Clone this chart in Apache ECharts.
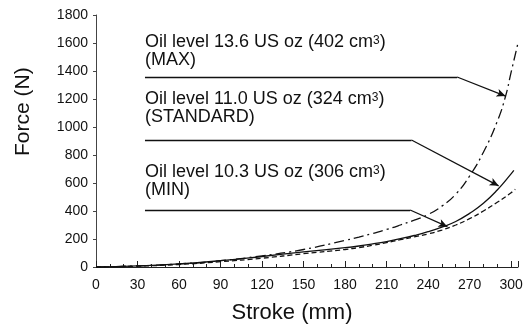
<!DOCTYPE html>
<html><head><meta charset="utf-8">
<script src="https://cdn.jsdelivr.net/npm/echarts@6/dist/echarts.min.js"></script>
<style>html,body{margin:0;padding:0;background:#fff}#c{width:527px;height:329px}</style>
</head><body><div id="c"></div>
<script>
// Data
const xTicks = [0, 30, 60, 90, 120, 150, 180, 210, 240, 270, 300];
const yTicks = [0, 200, 400, 600, 800, 1000, 1200, 1400, 1600, 1800];
const maxStroke = [0, 30, 60, 90, 120, 150, 180, 190, 200, 210, 220, 230, 240, 250, 260, 270, 280, 290, 296, 300, 305];
const maxForce  = [0, 8, 22, 45, 80, 125, 190, 213, 240, 268, 300, 335, 375, 435, 520, 650, 820, 1040, 1220, 1390, 1600];
const stdStroke = [0, 30, 60, 90, 120, 150, 180, 190, 200, 210, 220, 230, 240, 250, 260, 270, 280, 290, 300, 302];
const stdForce  = [0, 8, 22, 45, 75, 108, 138, 150, 165, 182, 202, 225, 252, 285, 325, 383, 455, 550, 665, 690];
const minStroke = [0, 30, 60, 90, 120, 150, 180, 190, 200, 210, 220, 230, 240, 250, 260, 270, 280, 290, 300, 303];
const minForce  = [0, 6, 18, 38, 63, 95, 125, 139, 155, 174, 195, 215, 236, 264, 300, 345, 400, 462, 530, 555];
const labels = [
  "Oil level 13.6 US oz (402 cm{s|3})\n(MAX)",
  "Oil level 11.0 US oz (324 cm{s|3})\n(STANDARD)",
  "Oil level 10.3 US oz (306 cm{s|3})\n(MIN)"
];
// annotation anchors in data units: text position, leader start, elbow, arrow target
const textAt   = [[35.4, 1600], [35.4, 1190], [35.4, 670]];
const leaderY  = [1357, 907, 407];
const elbowX   = [261, 228, 227];
const arrowTo  = [[296, 1221], [291, 580], [254, 288]];

const FONT = 'Liberation Sans, Arial, Helvetica, sans-serif';
const zip = (a, b) => a.map((v, i) => [v, b[i]]);

const chart = echarts.init(document.getElementById('c'));
const markLineData = [];
for (let i = 0; i < 3; i++) {
  markLineData.push([{coord: [textAt[i][0], leaderY[i]], symbol: 'none'}, {coord: [elbowX[i], leaderY[i]], symbol: 'none'}]);
  markLineData.push([{coord: [elbowX[i], leaderY[i]], symbol: 'none'}, {coord: arrowTo[i], symbol: 'arrow'}]);
}
const lineSeries = (name, xs, ys, type) => ({
  name, type: 'line', data: zip(xs, ys), smooth: 0.5, showSymbol: false,
  lineStyle: {color: '#111', width: 1.3, type}, animation: false
});
const s1 = lineSeries('MAX', maxStroke, maxForce, [10, 4, 2, 4]);
const s2 = lineSeries('STANDARD', stdStroke, stdForce, 'solid');
const s3 = lineSeries('MIN', minStroke, minForce, [5, 3]);
s1.markLine = {
  silent: true, animation: false, symbolSize: [6, 9],
  lineStyle: {color: '#111', width: 1.3, type: 'solid'},
  label: {show: false}, data: markLineData
};
chart.setOption({
  animation: false,
  grid: {left: 96, right: 9, top: 15, bottom: 62},
  xAxis: {
    type: 'value', min: xTicks[0], max: 305, interval: 30,
    axisLine: {lineStyle: {color: '#222', width: 1}},
    axisTick: {inside: true, length: 6, lineStyle: {color: '#222'}},
    minorTick: {show: true, splitNumber: 3, length: 3, lineStyle: {color: '#222'}},
    splitLine: {show: false},
    axisLabel: {color: '#111', fontSize: 14, fontFamily: FONT, margin: 11,
      formatter: v => (xTicks.indexOf(v) >= 0 ? String(v) : '')}
  },
  yAxis: {
    type: 'value', min: yTicks[0], max: yTicks[yTicks.length - 1], interval: 200,
    axisLine: {show: true, lineStyle: {color: '#444', width: 1}},
    axisTick: {show: true, length: 3, lineStyle: {color: '#444'}},
    splitLine: {show: false},
    axisLabel: {color: '#111', fontSize: 14, fontFamily: FONT, margin: 8,
      formatter: v => String(v)}
  },
  series: [s1, s2, s3]
});
const g = [];
for (let i = 0; i < 3; i++) {
  const p = chart.convertToPixel({gridIndex: 0}, textAt[i]);
  g.push({type: 'text', left: p[0], top: p[1] - 10, silent: true,
    style: {text: labels[i], fill: '#111', font: '18px ' + FONT, lineHeight: 18,
      rich: {s: {fontSize: 12, fontFamily: FONT, fill: '#111', padding: [0, 0, 3, 0]}}}});
}
g.push({type: 'text', silent: true, x: 13, y: 156, rotation: Math.PI / 2,
  style: {text: 'Force (N)', fill: '#111', font: '21px ' + FONT}});
g.push({type: 'text', silent: true, x: 292, y: 302,
  style: {text: 'Stroke (mm)', fill: '#111', font: '22px ' + FONT, align: 'center', verticalAlign: 'top'}});
chart.setOption({graphic: g});
</script></body></html>
